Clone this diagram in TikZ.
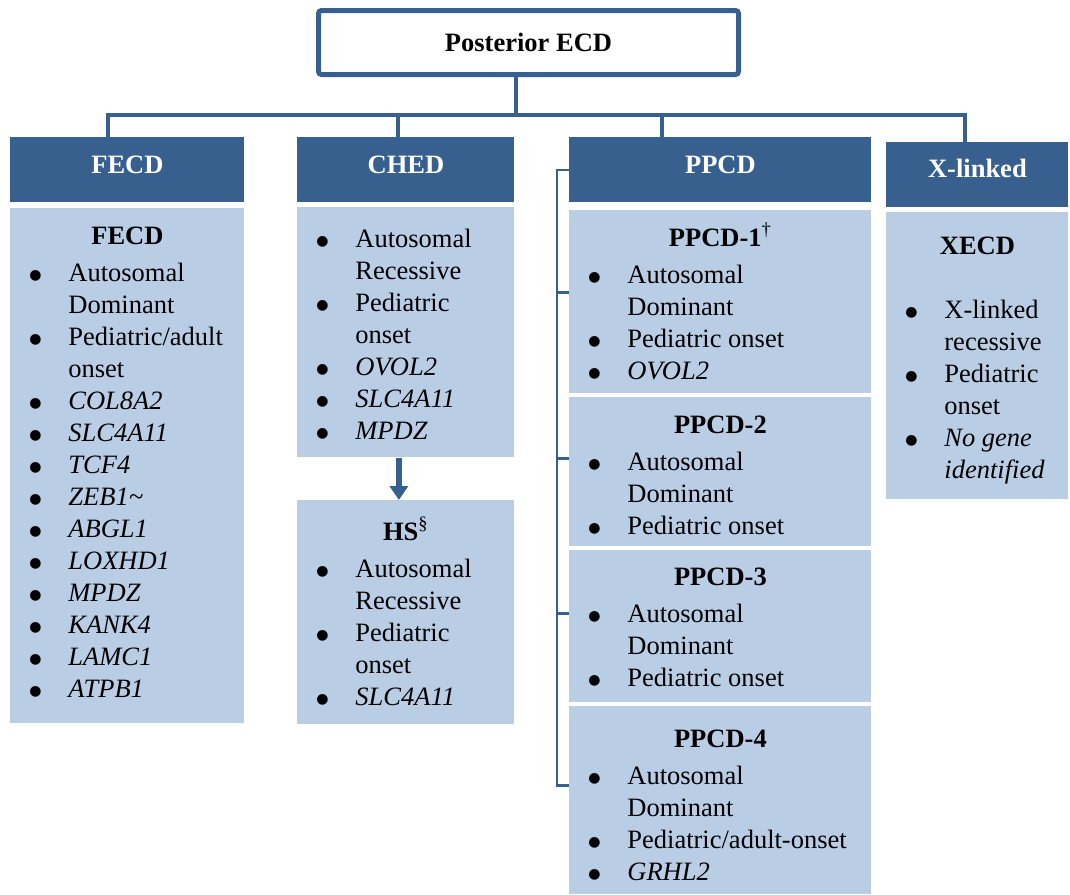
\documentclass[tikz,border=0pt]{standalone}
\usepackage{fontspec}
\setmainfont{Liberation Serif}
\newfontfamily\symb{DejaVu Sans}
\usetikzlibrary{arrows.meta}

\definecolor{ecdblau}{HTML}{37608F}
\definecolor{ecdhell}{HTML}{B9CDE5}

% 1 Bildpunkt = 0.5pt
\newlength{\px}\setlength{\px}{0.5pt}
\newcommand{\kasten}[3]{\parbox[t][#2\px][t]{#1\px}{\raggedright#3}}
\newcommand{\ttl}[2]{{\centering\bfseries\rule{0pt}{#1\px}#2\par}}
\newcommand{\punkt}{\raisebox{2\px}{\symb\fontsize{7pt}{7pt}\selectfont ●}}
\newcommand{\itm}[2][0]{{\let\\\newline\leftskip=19\px\hangindent=39\px\hangafter=1\noindent\rule{0pt}{#1\px}\makebox[39\px][l]{\punkt}#2\par}}

\tikzset{
    kopf/.style={fill=ecdblau, text=white, inner sep=0pt, anchor=north west, font=\fontsize{13.25pt}{16pt}\selectfont},
    feld/.style={fill=ecdhell, inner sep=0pt, anchor=north west, font=\fontsize{13.25pt}{16pt}\selectfont},
    linie/.style={draw=ecdblau, line width=2pt, line cap=rect},
    klammer/.style={draw=ecdblau, line width=1.2pt},
    pfeil/.style={draw=ecdblau, line width=3pt, -{Triangle[width=9pt,length=7pt]}}
}

\begin{document}
\begin{tikzpicture}[x=0.5pt,y=-0.5pt]
        \useasboundingbox (0,0) rectangle (1070,894);

        % Oberster Kasten
        \node[draw=ecdblau, line width=2.5pt, rounded corners=1.5pt, minimum width=210pt, minimum height=32pt,
              inner sep=0pt, anchor=north west, font=\bfseries\fontsize{13.25pt}{16pt}\selectfont] (top) at (316,8) {Posterior ECD};

        % Kopfzeilen
        \node[kopf] (fecd) at (10,137) {\kasten{234}{65}{\ttl{36}{FECD}}};
        \node[kopf] (ched) at (297,137) {\kasten{217}{65}{\ttl{36}{CHED}}};
        \node[kopf] (ppcd) at (569,137) {\kasten{302}{65}{\ttl{36}{PPCD}}};
        \node[kopf] (xl) at (886,142) {\kasten{182}{65}{\ttl{35}{X-linked}}};

        % Felder
        \node[feld] (fecdk) at (10,208) {\kasten{234}{515}{\ttl{36}{FECD}\vspace{5\px}
            \itm{Autosomal\\Dominant}
            \itm{Pediatric/adult\\onset}
            \foreach \g in {COL8A2,SLC4A11,TCF4,ZEB1\textasciitilde,ABGL1,LOXHD1,MPDZ,KANK4,LAMC1,ATPB1} {\itm{\textit{\g}}}}};
        \node[feld] (chedk) at (297,207) {\kasten{217}{250}{
            \itm[40]{Autosomal\\Recessive}
            \itm{Pediatric\\onset}
            \foreach \g in {OVOL2,SLC4A11,MPDZ} {\itm{\textit{\g}}}}};
        \node[feld] (hs) at (297,500) {\kasten{217}{224}{\ttl{40}{HS\textsuperscript{\mdseries\textsection}}\vspace{5\px}
            \itm{Autosomal\\Recessive}
            \itm{Pediatric\\onset}
            \itm{\textit{SLC4A11}}}};
        \node[feld] (p1) at (569,210) {\kasten{302}{183}{\ttl{36}{PPCD-1\textsuperscript{\mdseries\textdagger}}\vspace{5\px}
            \itm{Autosomal\\Dominant}
            \itm{Pediatric onset}
            \itm{\textit{OVOL2}}}};
        \node[feld] (p2) at (569,397) {\kasten{302}{149}{\ttl{36}{PPCD-2}\vspace{5\px}
            \itm{Autosomal\\Dominant}
            \itm{Pediatric onset}}};
        \node[feld] (p3) at (569,550) {\kasten{302}{152}{\ttl{35}{PPCD-3}\vspace{5\px}
            \itm{Autosomal\\Dominant}
            \itm{Pediatric onset}}};
        \node[feld] (p4) at (569,706) {\kasten{302}{188}{\ttl{41}{PPCD-4}\vspace{5\px}
            \itm{Autosomal\\Dominant}
            \itm{Pediatric/adult-onset}
            \itm{\textit{GRHL2}}}};
        \node[feld] (xecd) at (886,212) {\kasten{182}{287}{\ttl{42}{XECD}\vspace{32\px}
            \itm{X-linked\\recessive}
            \itm{Pediatric\\onset}
            \itm{\textit{No gene\\identified}}}};

        % Verbindungen
        \coordinate (abtop) at (516,115);
        \draw[linie] (abtop |- top.south) -- (abtop);
        \foreach \n/\xx in {fecd/108, ched/398, ppcd/662, xl/965} {
            \coordinate (ab\n) at (\xx,115);
            \draw[linie] (ab\n) -- (ab\n |- \n.north);
        }
        \draw[linie] (abfecd) -- (abxl);

        % Klammer bei PPCD
        \draw[klammer] (ppcd.west) -- ++(-12,0) |- ([yshift=7.5pt]p4.west);
        \foreach \n/\v in {p1/4.75pt, p2/6.75pt, p3/6.5pt} {
            \draw[klammer] ([yshift=\v]\n.west) -- ++(-12,0);
        }

        % Pfeil CHED -> HS
        \draw[pfeil] ([xshift=-3.5pt]chedk.south) -- ([xshift=-3.5pt]hs.north);
    \end{tikzpicture}
\end{document}
